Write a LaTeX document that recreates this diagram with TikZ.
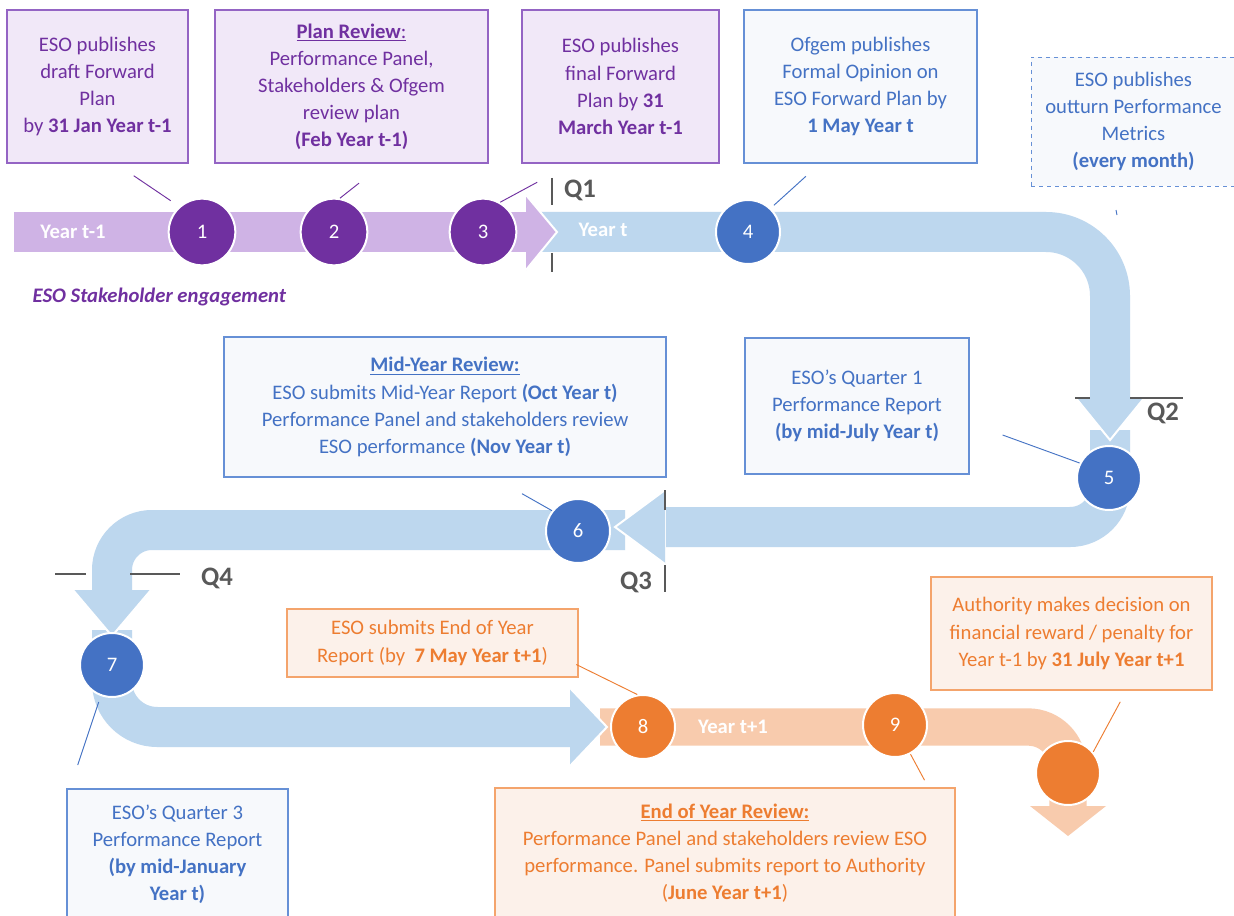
\documentclass[tikz,border=0pt]{standalone}
\usepackage{fontspec}
\setmainfont{Carlito}
\usepackage{tikz}
\usetikzlibrary{calc}
\definecolor{esoPurple}{HTML}{7030A0}
\definecolor{purpleBand}{HTML}{CFB3E5}
\definecolor{purpleFill}{HTML}{F1E8F8}
\definecolor{purpleLine}{HTML}{9464C4}
\definecolor{esoBlue}{HTML}{4472C4}
\definecolor{blueBand}{HTML}{BDD7EE}
\definecolor{blueFill}{HTML}{F7F9FC}
\definecolor{blueLine}{HTML}{6690D6}
\definecolor{esoOrange}{HTML}{ED7D31}
\definecolor{orangeBand}{HTML}{F8CBAD}
\definecolor{orangeFill}{HTML}{FCF1EA}
\definecolor{orangeLine}{HTML}{F4A46C}
\definecolor{qGray}{HTML}{595959}
\tikzset {
	box/.style={rectangle, draw, line width=0.9pt, inner sep=0pt, align=center, font=\fontsize{15.5}{20.3}\selectfont},
	purpleBox/.style={box, draw=purpleLine, fill=purpleFill, text=esoPurple},
	blueBox/.style={box, draw=blueLine, fill=blueFill, text=esoBlue},
	orangeBox/.style={box, draw=orangeLine, fill=orangeFill, text=esoOrange},
	stepCircle/.style={circle, draw=white, line width=1.5pt, minimum size=48pt, inner sep=0pt, text=white, font=\fontsize{15.5}{18}\selectfont},
	purpleCircle/.style={stepCircle, fill=esoPurple, minimum size=50pt},
	blueCircle/.style={stepCircle, fill=esoBlue},
	orangeCircle/.style={stepCircle, fill=esoOrange},
	band/.style={line width=30pt},
	notch/.style={draw=white, line width=1.5pt},
	bandLabel/.style={text=white, font=\fontsize{15.5}{18}\selectfont\bfseries},
	quarter/.style={text=qGray, font=\fontsize{20}{24}\selectfont\bfseries},
	quarterLine/.style={draw=qGray, line width=0.8pt},
	purpleLead/.style={draw=esoPurple, line width=0.7pt},
	blueLead/.style={draw=esoBlue, line width=0.7pt},
	orangeLead/.style={draw=esoOrange, line width=0.7pt}
}
\begin{document}
\begin{tikzpicture}[x=0.75pt, y=-0.75pt]
	\path[use as bounding box, fill=white] (0,0) rectangle (1234,916);

	\draw[band, line width=28pt, draw=orangeBand, rounded corners=30pt] (600,727) -- (1068,727) -- (1068,807);
	\fill[orangeBand] (1030,806) -- (1068,836) -- (1106,806) -- cycle;
	\draw[band, draw=blueBand, rounded corners=34pt] (112,630) -- (112,727) -- (572,727);
	\fill[blueBand] (570,688) -- (607,727) -- (570,766) -- cycle;
	\draw[notch] (570,688) -- (607,727) -- (570,766);
	\draw[band, draw=blueBand, rounded corners=30pt] (625,530) -- (112,530) -- (112,592);
	\fill[blueBand] (73,590) -- (112,636) -- (151,590) -- cycle;
	\draw[notch] (73,590) -- (112,636) -- (151,590);
	\draw[band, draw=blueBand, rounded corners=30pt] (1110,430) -- (1110,527) -- (666,527);
	\fill[blueBand] (665,490) -- (615,527) -- (665,564) -- cycle;
	\draw[notch] (665,490) -- (615,527) -- (665,564);
	\draw[band, draw=blueBand, rounded corners=48pt] (540,232) -- (1110,232) -- (1110,399);
	\fill[blueBand] (1075,397) -- (1110,440) -- (1145,397) -- cycle;
	\draw[notch] (1075,397) -- (1110,440) -- (1145,397);
	\draw[band, draw=purpleBand] (14,232) -- (527,232);
	\fill[purpleBand] (526,195) -- (557,232) -- (526,270) -- cycle;
	\draw[notch] (526,195) -- (557,232) -- (526,270);

	\draw[quarterLine] (552,178) -- (552,205);
	\draw[quarterLine] (552,253) -- (552,272);
	\draw[quarterLine] (1075,398) -- (1090,398);
	\draw[quarterLine] (1130,398) -- (1183,398);
	\draw[quarterLine] (665,490) -- (665,510);
	\draw[quarterLine] (665,565) -- (665,592);
	\draw[quarterLine] (55,574) -- (86,574);
	\draw[quarterLine] (130,574) -- (180,574);
	\node[quarter] (q1) at (580,190) {Q1};
	\node[quarter] (q2) at (1163,413) {Q2};
	\node[quarter] (q3) at (636,582) {Q3};
	\node[quarter] (q4) at (217,578) {Q4};

	\node[bandLabel] (yearPrev) at (73,232) {Year t-1};
	\node[bandLabel] (yearNow) at (603,230) {Year t};
	\node[bandLabel] (yearNext) at (733,727) {Year t+1};

	\node[purpleCircle] (c1) at (202,232) {1};
	\node[purpleCircle] (c2) at (334,232) {2};
	\node[purpleCircle] (c3) at (483,232) {3};
	\node[blueCircle] (c4) at (748,232) {4};
	\node[blueCircle] (c5) at (1109,478) {5};
	\node[blueCircle] (c6) at (578,531) {6};
	\node[blueCircle] (c7) at (112,665) {7};
	\node[orangeCircle] (c8) at (643,727) {8};
	\node[orangeCircle] (c9) at (895,725) {9};
	\node[orangeCircle] (c10) at (1068,773) {};

	\node[purpleBox, minimum width=135.75pt, minimum height=114.75pt] (draftPlan) at (97.5,86.5) {ESO publishes\\ draft Forward\\ Plan\\ by \textbf{31 Jan Year t-1}};
	\node[purpleBox, minimum width=204.75pt, minimum height=114.75pt] (planReview) at (351.5,86.5) {\underline{\textbf{Plan Review}:}\\ Performance Panel,\\ Stakeholders \& Ofgem\\ review plan\\ \textbf{(Feb Year t-1)}};
	\node[purpleBox, minimum width=147.75pt, minimum height=114.75pt] (finalPlan) at (620.5,86.5) {ESO publishes\\ final Forward\\ Plan by \textbf{31}\\ \textbf{March Year t-1}};
	\node[blueBox, minimum width=174.75pt, minimum height=114.75pt] (opinion) at (860.5,86.5) {Ofgem publishes\\ Formal Opinion on\\ ESO Forward Plan by\\ \textbf{1 May Year t}};
	\node[blueBox, dashed, line width=0.7pt, minimum width=153.75pt, minimum height=96.75pt] (metrics) at (1133.5,121.5) {ESO publishes\\ outturn Performance\\ Metrics\\ \textbf{(every month)}};
	\node[blueBox, minimum width=331.5pt, minimum height=105pt] (midYear) at (445,407) {\underline{\textbf{Mid-Year Review:}}\\ ESO submits Mid-Year Report \textbf{(Oct Year t)}\\ Performance Panel and stakeholders review\\ ESO performance \textbf{(Nov Year t)}};
	\node[blueBox, minimum width=168pt, minimum height=102pt] (quarterOne) at (857,406) {ESO’s Quarter 1\\ Performance Report\\ \textbf{(by mid-July Year t)}};
	\node[orangeBox, minimum width=218.25pt, minimum height=51pt] (endReport) at (432.5,643) {ESO submits End of Year\\ Report (by~ \textbf{7 May Year t+1})};
	\node[orangeBox, minimum width=210.75pt, minimum height=84.75pt] (decision) at (1071.5,633.5) {Authority makes decision on\\ financial reward / penalty for\\ Year t-1 by \textbf{31 July Year t+1}};
	\node[blueBox, minimum width=165.75pt, minimum height=97.5pt] (quarterThree) at (177.5,854) {ESO’s Quarter 3\\ Performance Report\\ \textbf{(by mid-January}\\ \textbf{Year t)}};
	\node[orangeBox, minimum width=345pt, minimum height=97.5pt] (endReview) at (725,853) {\underline{\textbf{End of Year Review:}}\\ Performance Panel and stakeholders review ESO\\ performance. Panel submits report to Authority\\ (\textbf{June Year t+1})};

	\node[anchor=west, text=esoPurple, font=\fontsize{15.5}{18}\selectfont\bfseries\itshape] (engage) at (28,297) {ESO Stakeholder engagement};

	\draw[purpleLead] (c1.135) ++(-7,-7) -- ++(-37,-25);
	\draw[purpleLead] (c2.80) -- ++(19,-15);
	\draw[purpleLead] (c3.60) -- ++(37,-20);
	\draw[blueLead] (c4.46) ++(3,-3) -- ++(32,-29);
	\draw[blueLead] (1116,210) -- (1117,215);
	\draw[blueLead] (c5.153) -- ++(-77,-28);
	\draw[blueLead] (c6.142) -- ++(-30,-17);
	\draw[blueLead] (c7.250) ++(-2,6) -- ++(-21,63);
	\draw[orangeLead] (c8.100) -- ++(-61,-30);
	\draw[orangeLead] (c9.298) -- ++(14,26);
	\draw[orangeLead] (c10.40) -- ++(27,-50);
\end{tikzpicture}
\end{document}
